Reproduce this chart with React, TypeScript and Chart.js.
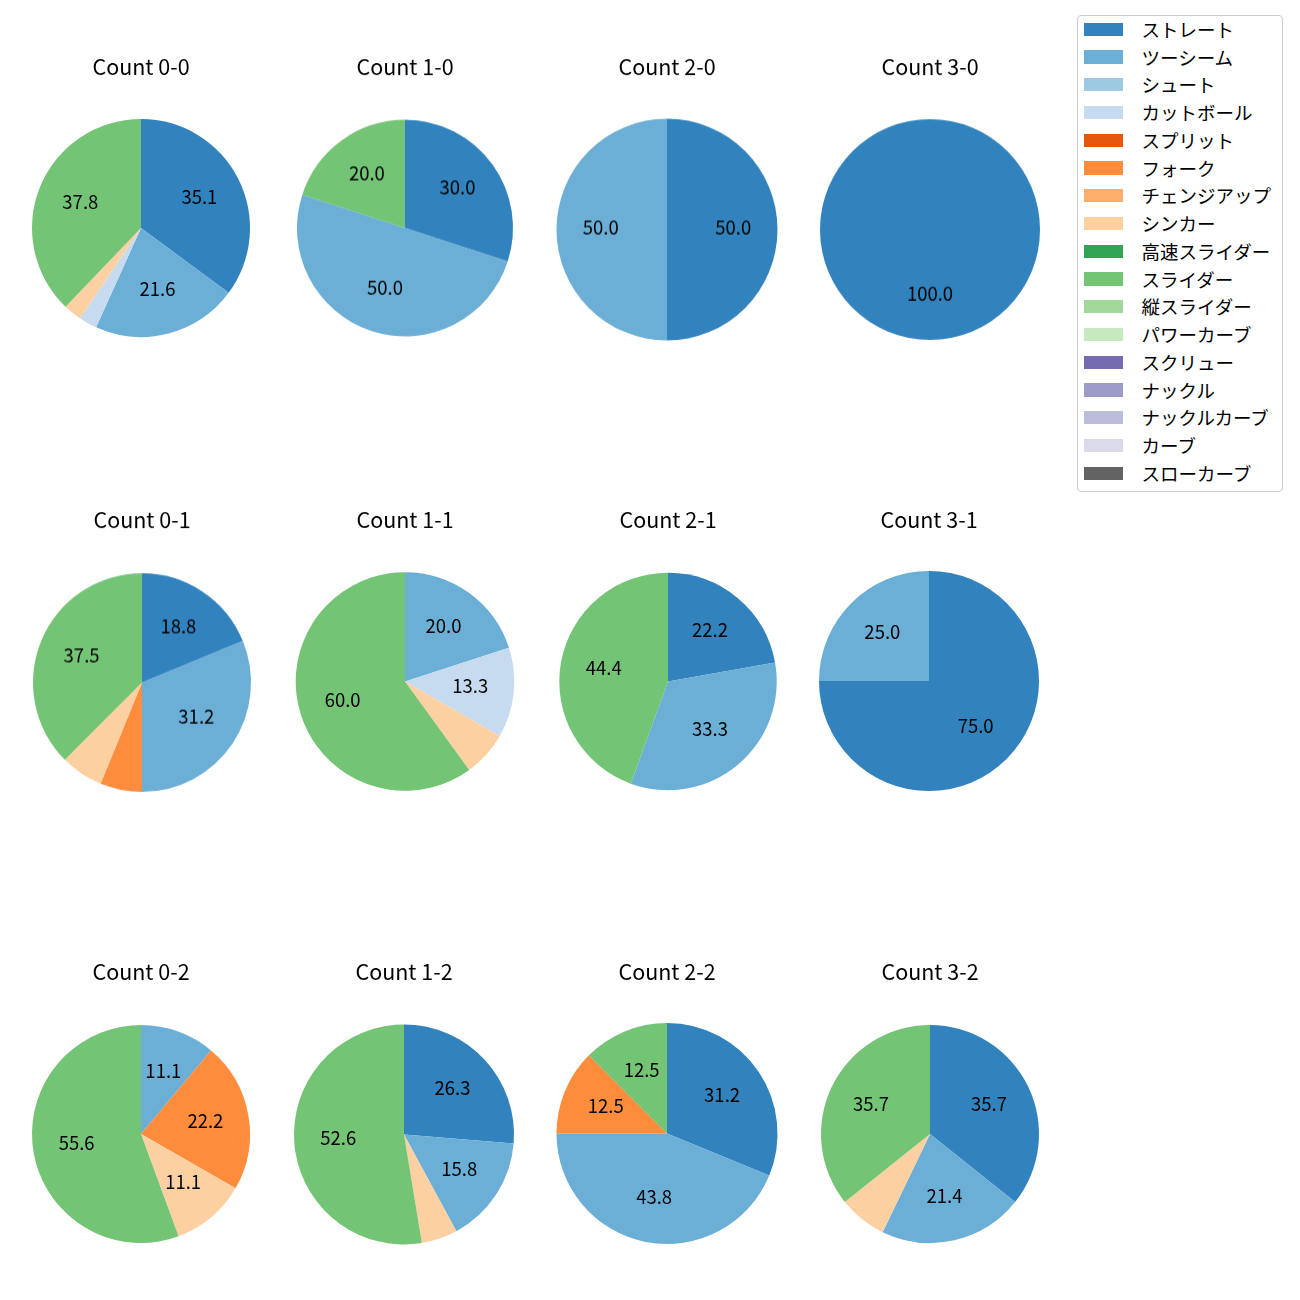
import React, { useEffect, useRef } from "react";
import { Chart, registerables } from "chart.js";

Chart.register(...registerables);

const FONT = "'Noto Sans CJK JP', 'Noto Sans', sans-serif";

const pitchTypes = [
  "ストレート",
  "ツーシーム",
  "シュート",
  "カットボール",
  "スプリット",
  "フォーク",
  "チェンジアップ",
  "シンカー",
  "高速スライダー",
  "スライダー",
  "縦スライダー",
  "パワーカーブ",
  "スクリュー",
  "ナックル",
  "ナックルカーブ",
  "カーブ",
  "スローカーブ",
];

const pitchColors = [
  "#3182bd",
  "#6baed6",
  "#9ecae1",
  "#c6dbef",
  "#e6550d",
  "#fd8d3c",
  "#fdae6b",
  "#fdd0a2",
  "#31a354",
  "#74c476",
  "#a1d99b",
  "#c7e9c0",
  "#756bb1",
  "#9e9ac8",
  "#bcbddc",
  "#dadaeb",
  "#636363",
];

// Percentages per pitch type (same order as pitchTypes)
const count00 = [35.1, 21.6, 0, 2.7, 0, 0, 0, 2.7, 0, 37.8, 0, 0, 0, 0, 0, 0, 0];
const count10 = [30.0, 50.0, 0, 0, 0, 0, 0, 0, 0, 20.0, 0, 0, 0, 0, 0, 0, 0];
const count20 = [50.0, 50.0, 0, 0, 0, 0, 0, 0, 0, 0, 0, 0, 0, 0, 0, 0, 0];
const count30 = [100.0, 0, 0, 0, 0, 0, 0, 0, 0, 0, 0, 0, 0, 0, 0, 0, 0];
const count01 = [18.8, 31.2, 0, 0, 0, 6.2, 0, 6.3, 0, 37.5, 0, 0, 0, 0, 0, 0, 0];
const count11 = [0, 20.0, 0, 13.3, 0, 0, 0, 6.7, 0, 60.0, 0, 0, 0, 0, 0, 0, 0];
const count21 = [22.2, 33.3, 0, 0, 0, 0, 0, 0, 0, 44.4, 0, 0, 0, 0, 0, 0, 0];
const count31 = [75.0, 25.0, 0, 0, 0, 0, 0, 0, 0, 0, 0, 0, 0, 0, 0, 0, 0];
const count02 = [0, 11.1, 0, 0, 0, 22.2, 0, 11.1, 0, 55.6, 0, 0, 0, 0, 0, 0, 0];
const count12 = [26.3, 15.8, 0, 0, 0, 0, 0, 5.3, 0, 52.6, 0, 0, 0, 0, 0, 0, 0];
const count22 = [31.2, 43.8, 0, 0, 0, 12.5, 0, 0, 0, 12.5, 0, 0, 0, 0, 0, 0, 0];
const count32 = [35.7, 21.4, 0, 0, 0, 0, 0, 7.1, 0, 35.7, 0, 0, 0, 0, 0, 0, 0];

const panelTitles = [
  "Count 0-0", "Count 1-0", "Count 2-0", "Count 3-0",
  "Count 0-1", "Count 1-1", "Count 2-1", "Count 3-1",
  "Count 0-2", "Count 1-2", "Count 2-2", "Count 3-2",
];
const panelValues = [
  count00, count10, count20, count30,
  count01, count11, count21, count31,
  count02, count12, count22, count32,
];

const LABEL_MIN = 10;

// layout (pixels): pie centre x, centre y, radius per panel; title centre y per row
const PANEL_X = [141.3, 405.3, 667.2, 930, 141.7, 404.5, 668, 929, 140.5, 404.2, 666.5, 930];
const PANEL_Y = [228.3, 228, 229.5, 229.5, 682.2, 681.5, 681.3, 680.8, 1134, 1134.3, 1133.5, 1134];
const PANEL_R = [109, 108, 110.5, 110, 109, 109.3, 108.7, 110, 109, 110, 110.5, 109];
const TITLE_Y = [67.3, 519.8, 971.8];
const PANEL_W = 262;
const TITLE_H = 24;
const TITLE_SIZE = 21.5;
const LABEL_SIZE = 18.5;
const LABEL_DY = -2;
const LEGEND_SIZE = 18.5;

const pctLabelPlugin = {
  id: "pctLabels",
  afterDatasetsDraw(chart: any) {
    const ctx = chart.ctx;
    const meta = chart.getDatasetMeta(0);
    const data = chart.data.datasets[0].data as number[];
    ctx.save();
    ctx.fillStyle = "#000000";
    ctx.font = `${LABEL_SIZE}px ${FONT}`;
    ctx.textAlign = "center";
    ctx.textBaseline = "middle";
    meta.data.forEach((arc: any, i: number) => {
      const v = data[i];
      if (!v || v < LABEL_MIN) return;
      const p = arc.getProps(["x", "y", "startAngle", "endAngle", "outerRadius"], true);
      const mid = (p.startAngle + p.endAngle) / 2;
      const r = p.outerRadius * 0.6;
      ctx.fillText(v.toFixed(1), p.x + Math.cos(mid) * r, p.y + Math.sin(mid) * r + LABEL_DY);
    });
    ctx.restore();
  },
};

function PiePanel({
  title,
  values,
  cx,
  cy,
  r,
  titleY,
}: {
  title: string;
  values: number[];
  cx: number;
  cy: number;
  r: number;
  titleY: number;
}) {
  const ref = useRef<HTMLCanvasElement>(null);
  const top = titleY - TITLE_H / 2;
  const areaTop = top + TITLE_H;
  const height = TITLE_H + 2 * (cy - areaTop);
  useEffect(() => {
    if (!ref.current) return;
    const chart = new Chart(ref.current, {
      type: "pie",
      data: {
        labels: pitchTypes,
        datasets: [
          {
            data: values,
            backgroundColor: pitchColors,
            borderWidth: 0,
          },
        ],
      },
      options: {
        responsive: false,
        animation: false,
        events: [],
        radius: r,
        layout: { padding: 0 },
        plugins: {
          legend: { display: false },
          tooltip: { enabled: false },
          title: {
            display: true,
            text: title,
            color: "#000000",
            font: { family: FONT, size: TITLE_SIZE, weight: "normal", lineHeight: TITLE_H / TITLE_SIZE },
            padding: { top: 0, bottom: 0 },
          },
        },
      } as any,
      plugins: [pctLabelPlugin],
    });
    return () => chart.destroy();
  }, [title, values, r]);
  return (
    <canvas
      ref={ref}
      width={PANEL_W}
      height={height}
      style={{ position: "absolute", left: cx - PANEL_W / 2, top, width: PANEL_W, height }}
    />
  );
}

function Legend() {
  return (
    <div
      style={{
        position: "absolute",
        left: 1077,
        top: 15,
        width: 206,
        height: 477,
        border: "1px solid #cccccc",
        borderRadius: 4,
        background: "#ffffff",
        fontFamily: FONT,
        fontSize: LEGEND_SIZE,
        color: "#000000",
        boxSizing: "border-box",
      }}
    >
      {pitchTypes.map((name, i) => (
        <div
          key={name}
          style={{ position: "absolute", left: 0, top: 13.3 + i * 27.75 - 12, height: 24, width: 204 }}
        >
          <div
            style={{
              position: "absolute",
              left: 6,
              top: 5.3,
              width: 39,
              height: 13.4,
              background: pitchColors[i],
            }}
          />
          <div
            style={{
              position: "absolute",
              left: 63.5,
              top: -0.5,
              lineHeight: "24px",
              whiteSpace: "nowrap",
            }}
          >
            {name}
          </div>
        </div>
      ))}
    </div>
  );
}

export default function App() {
  return (
    <div style={{ position: "absolute", left: 0, top: 0, width: 1300, height: 1300, background: "#ffffff" }}>
      {panelTitles.map((t, i) => (
        <PiePanel
          key={t}
          title={t}
          values={panelValues[i]}
          cx={PANEL_X[i]}
          cy={PANEL_Y[i]}
          r={PANEL_R[i]}
          titleY={TITLE_Y[Math.floor(i / 4)]}
        />
      ))}
      <Legend />
    </div>
  );
}
